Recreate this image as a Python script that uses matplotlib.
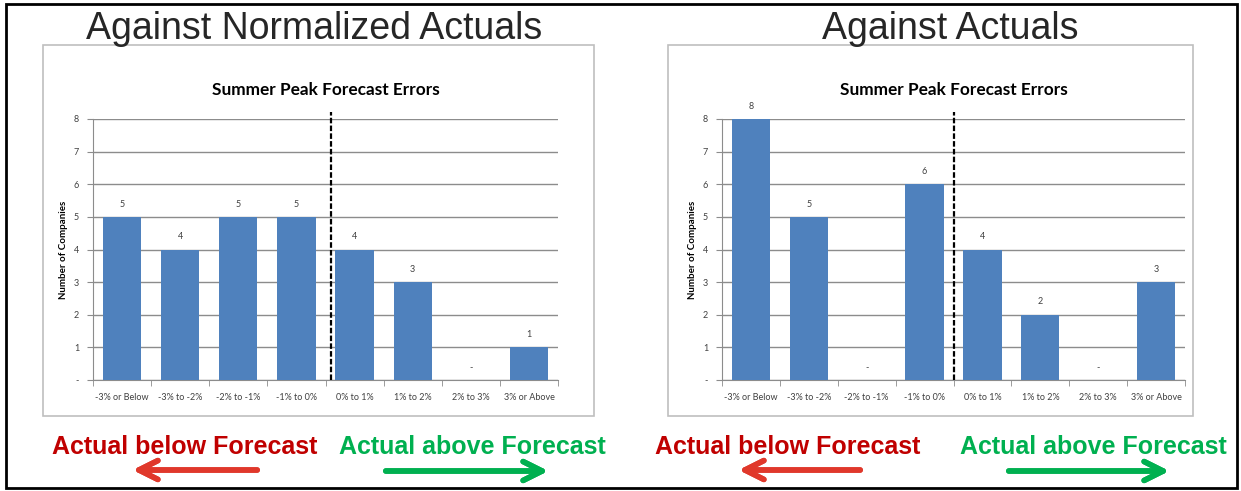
import matplotlib.pyplot as plt
from matplotlib.patches import Rectangle

# bins of forecast error, counts of companies
categories = ["-3% or Below", "-3% to -2%", "-2% to -1%", "-1% to 0%",
              "0% to 1%", "1% to 2%", "2% to 3%", "3% or Above"]
normalized_counts = [5, 4, 5, 5, 4, 3, 0, 1]
actual_counts = [8, 5, 0, 6, 4, 2, 0, 3]
y_ticks = [0, 1, 2, 3, 4, 5, 6, 7, 8]
y_ticklabels = ["-", "1", "2", "3", "4", "5", "6", "7", "8"]

W, H = 1241, 491
BAR = "#4F81BD"
GRID = "#8C8C8C"
RED_TXT, RED_ARR = "#C00000", "#E0382B"
GREEN = "#00B050"
CHART_FONT = "Lato"
HEAD_FONT = "Liberation Sans"

fig = plt.figure(figsize=(W / 100, H / 100), dpi=100)


def px(x, y):
    # pixel coords (top-left origin) -> figure fraction
    return x / W, 1 - y / H


# outer black frame
fig.patches.append(Rectangle((6 / W, 1 - 488 / H), 1231 / W, 484 / H,
                             transform=fig.transFigure, fill=False,
                             edgecolor="black", lw=2))


def panel(counts, box, ax_rect, dash_x, heading, heading_x, lbl_x, arr):
    # gray chart frame
    bx0, by0, bx1, by1 = box
    fig.patches.append(Rectangle((bx0 / W, 1 - by1 / H), (bx1 - bx0) / W,
                                 (by1 - by0) / H, transform=fig.transFigure,
                                 fill=False, edgecolor="#BFBFBF", lw=1.2))
    x0, y_top, x1, y_bot = ax_rect
    ax = fig.add_axes([x0 / W, 1 - y_bot / H, (x1 - x0) / W, (y_bot - y_top) / H])
    pos = list(range(len(categories)))
    ax.bar(pos, counts, width=0.66, color=BAR, zorder=3)
    for p, c in zip(pos, counts):
        ax.annotate(str(c) if c else "-", (p, c), xytext=(0, 6),
                    textcoords="offset points", ha="center", va="bottom",
                    fontsize=6.5, family=CHART_FONT, color="#404040")
    ax.set_xlim(-0.5, len(categories) - 0.5)
    ax.set_ylim(0, 8)
    ax.set_yticks(y_ticks)
    ax.set_yticklabels(y_ticklabels, fontsize=6.5, family=CHART_FONT, color="#404040")
    ax.set_xticks(pos)
    ax.set_xticklabels(categories, fontsize=6.5, family=CHART_FONT, color="#404040")
    ax.set_xticks([p - 0.5 for p in pos] + [len(pos) - 0.5], minor=True)
    ax.tick_params(axis="x", which="major", length=0, pad=9)
    ax.tick_params(axis="x", which="minor", length=4, color=GRID)
    ax.tick_params(axis="y", length=4, color=GRID, pad=6)
    ax.grid(axis="y", color=GRID, lw=1, zorder=0)
    for s in ["top", "right"]:
        ax.spines[s].set_visible(False)
    for s in ["left", "bottom"]:
        ax.spines[s].set_color(GRID)
    ax.set_ylabel("Number of Companies", fontsize=7, family=CHART_FONT,
                  fontweight="bold", labelpad=4)
    ax.plot([dash_x, dash_x], [0, 8.2], ls=(0, (2.5, 1)), color="black",
            lw=1.6, zorder=4, clip_on=False)
    ax.set_title("Summer Peak Forecast Errors", fontsize=12.4, family=CHART_FONT,
                 fontweight="bold", pad=17)

    fig.text(*px(heading_x, 29), heading, ha="center", va="center",
             fontsize=27, family=HEAD_FONT, color="#262626")
    fig.text(*px(lbl_x[0], 447), "Actual below Forecast", ha="center",
             va="center", fontsize=18, family=HEAD_FONT, fontweight="bold",
             color=RED_TXT)
    fig.text(*px(lbl_x[1], 447), "Actual above Forecast", ha="center",
             va="center", fontsize=18, family=HEAD_FONT, fontweight="bold",
             color=GREEN)
    (r0, r1), (g0, g1) = arr
    fig.add_artist(plt.annotate("", xy=px(r1, 470), xytext=px(r0, 470),
                                xycoords="figure fraction",
                                arrowprops=dict(arrowstyle="->", color=RED_ARR,
                                                lw=4, mutation_scale=34)))
    fig.add_artist(plt.annotate("", xy=px(g1, 471), xytext=px(g0, 471),
                                xycoords="figure fraction",
                                arrowprops=dict(arrowstyle="->", color=GREEN,
                                                lw=4, mutation_scale=34)))


panel(normalized_counts, (43, 45, 594, 416), (93, 119, 558, 380), 3.6,
      "Against Normalized Actuals", 314, (185, 472), ((260, 130), (383, 551)))
panel(actual_counts, (668, 45, 1193, 416), (722, 119, 1185, 380), 3.5,
      "Against Actuals", 950, (788, 1093), ((863, 736), (1006, 1172)))

plt.savefig("out.png", dpi=100)
plt.close()
